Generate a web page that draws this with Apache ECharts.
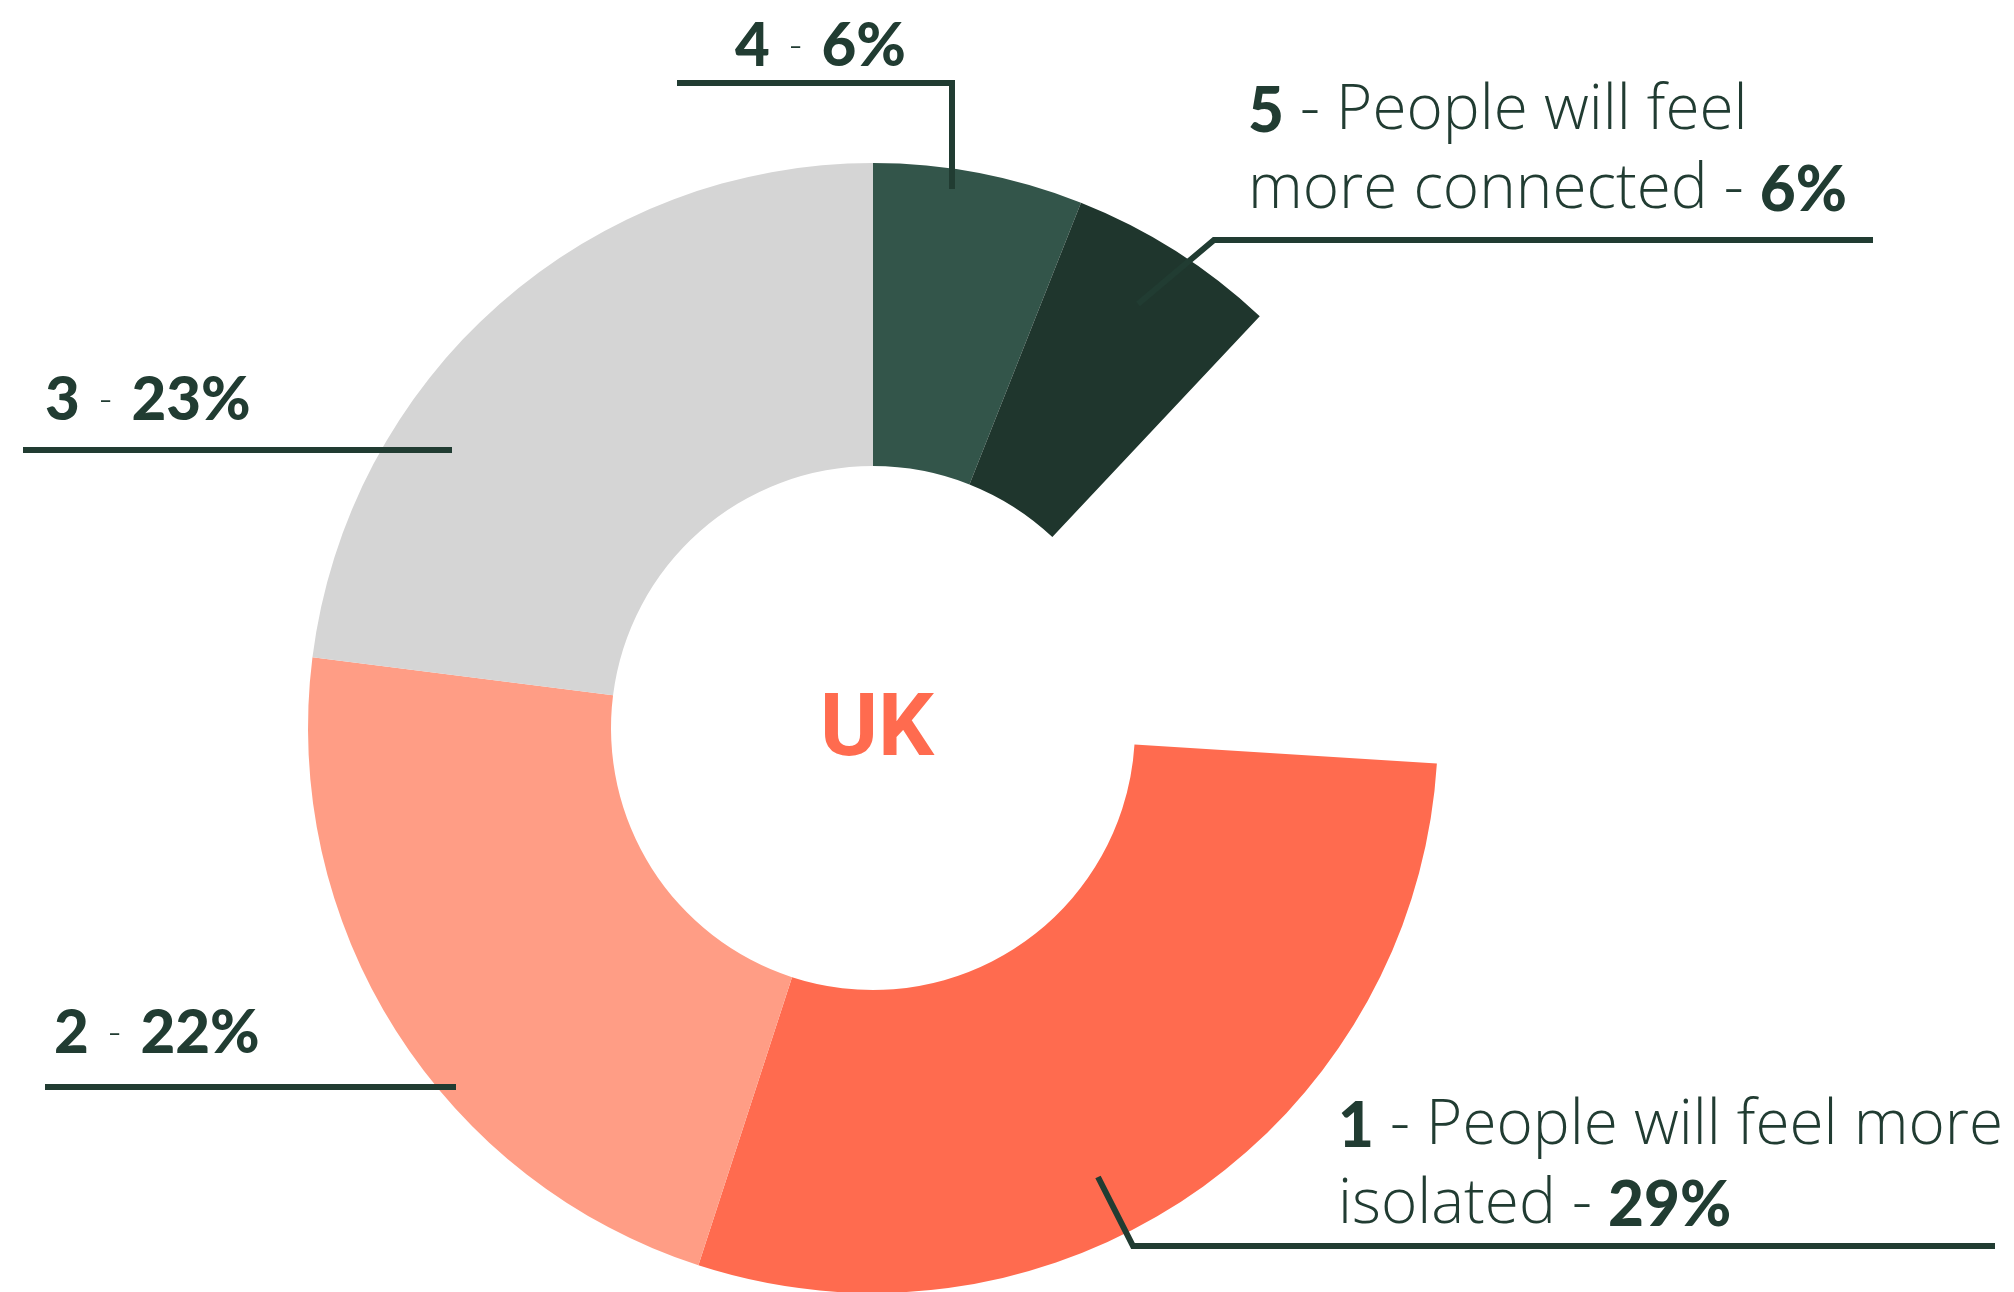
<!DOCTYPE html>
<html>
<head>
<meta charset="utf-8">
<script src="https://cdn.jsdelivr.net/npm/echarts@6/dist/echarts.min.js"></script>
<style>
  html, body { margin: 0; padding: 0; background: #fff; }
  #chart { width: 2014px; height: 1292px; }
</style>
</head>
<body>
<div id="chart"></div>
<script>
// answers, clockwise from the end of the gap
const categories = ['1', '2', '3', '4', '5']
const values = [29, 22, 23, 6, 6]
const descriptions = ['People will feel more\nisolated', '', '', '', 'People will feel\nmore connected']
const centerLabel = 'UK'

const colors = ['#ff6b4f', '#ff9d85', '#d5d5d5', '#33554a', '#1f362d']
const textColor = '#213c32'

// where each label sits and how its leader line runs
const labelSpots = [
  { x: 1338, y: 1166, line: [[1098, 1177], [1133, 1246], [1995, 1246]] },
  { x: 54, y: 1034, line: [[456, 1087], [45, 1087]] },
  { x: 45, y: 401, line: [[452, 450], [23, 450]] },
  { x: 735, y: 47, line: [[952, 189], [952, 83], [677, 83]] },
  { x: 1248, y: 151, line: [[1138, 304], [1214, 240], [1873, 240]] }
]

const total = 100
const covered = values.reduce((a, b) => a + b, 0)
// answers 1-3 end at 12 o'clock, so answer 1 starts that far back
const beforeTop = values.slice(0, 3).reduce((a, b) => a + b, 0)
const startAngle = 90 - 360 + beforeTop / total * 360
const endAngle = startAngle - covered / total * 360

const chart = echarts.init(document.getElementById('chart'))

chart.setOption({
  animation: false,
  title: {
    text: centerLabel,
    left: 872,
    top: 728,
    textAlign: 'center',
    textVerticalAlign: 'middle',
    textStyle: {
      color: '#ff6b4f',
      fontFamily: 'Roboto',
      fontWeight: 'bold',
      fontSize: 88
    }
  },
  // leader lines drawn on top so they run into the slices
  graphic: labelSpots.map(s => ({
    type: 'polyline',
    z: 100,
    silent: true,
    shape: { points: s.line },
    style: { stroke: textColor, lineWidth: 6, fill: null, lineJoin: 'miter' }
  })),
  series: [{
    type: 'pie',
    silent: true,
    center: [873, 728],
    radius: [262, 565],
    startAngle: startAngle,
    endAngle: endAngle,
    clockwise: true,
    avoidLabelOverlap: false,
    data: categories.map((c, i) => ({
      name: c,
      value: values[i],
      itemStyle: { color: colors[i] }
    })),
    label: {
      show: true,
      position: 'outside',
      color: textColor,
      formatter: (p) => {
        const i = p.dataIndex
        const desc = descriptions[i]
        if (!desc) {
          return '{big|' + categories[i] + '}{dash|  -  }{big|' + values[i] + '%}'
        }
        const lines = desc.split('\n')
        return '{num|' + categories[i] + '}{txt| - ' + lines[0] + '}\n{txt|' + lines[1] + ' - }{num|' + values[i] + '%}'
      },
      rich: {
        big: { fontFamily: 'Lato', fontWeight: 900, fontSize: 60, color: textColor, lineHeight: 70 },
        dash: { fontFamily: 'Open Sans', fontWeight: 300, fontSize: 38, color: textColor, lineHeight: 70 },
        num: { fontFamily: 'Lato', fontWeight: 900, fontSize: 62, color: textColor, lineHeight: 79 },
        txt: { fontFamily: 'Open Sans', fontWeight: 300, fontSize: 62, color: textColor, lineHeight: 79 }
      }
    },
    labelLine: { show: false },
    labelLayout: (params) => {
      const s = labelSpots[params.dataIndex]
      return {
        x: s.x,
        y: s.y,
        align: 'left',
        verticalAlign: 'middle'
      }
    },
    emphasis: { disabled: true }
  }]
})
</script>
</body>
</html>
